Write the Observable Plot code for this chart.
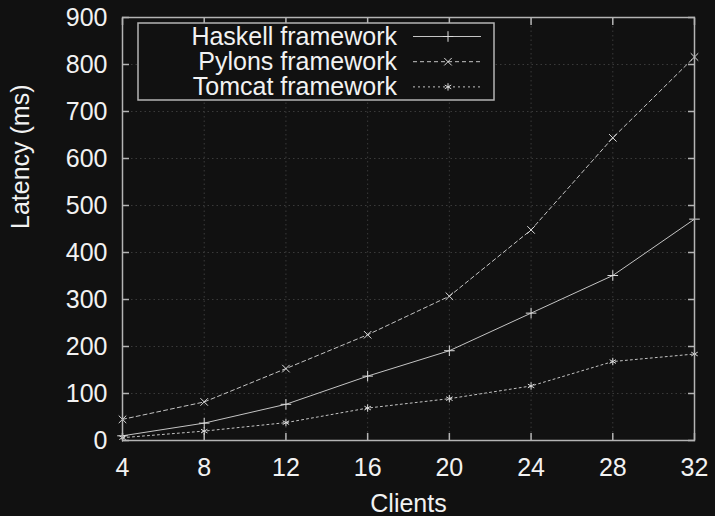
<!DOCTYPE html>
<html>
<head>
<meta charset="utf-8">
<script src="https://cdn.jsdelivr.net/npm/d3@7"></script>
<script src="https://cdn.jsdelivr.net/npm/@observablehq/plot@0.6"></script>
<style>
  html, body { margin: 0; padding: 0; background: #111111; }
  #chart { width: 715px; height: 516px; }
</style>
</head>
<body>
<div id="chart"></div>
<script>
// ---- data ----
const clients = [4, 8, 12, 16, 20, 24, 28, 32];
const haskell = [10, 37, 77, 137, 191, 271, 351, 471];
const pylons  = [45, 82, 153, 225, 307, 448, 644, 816];
const tomcat  = [6, 20, 38, 69, 89, 116, 168, 184];
const seriesNames = ["Haskell framework", "Pylons framework", "Tomcat framework"];
const yTicks = [0, 100, 200, 300, 400, 500, 600, 700, 800, 900];
const xLabel = "Clients";
const yLabel = "Latency (ms)";

// ---- build table ----
const seriesValues = [haskell, pylons, tomcat];
const symbols = ["plus", "times", "asterisk"];
const dashes = [null, "4,3", "2,3"];
const rows = [];
seriesNames.forEach((name, s) => {
  clients.forEach((c, i) => rows.push({series: name, clients: c, latency: seriesValues[s][i]}));
});

const FG = "#f2f2f2";
const AX = "#b4b4b4";
const LINE = "#c4c4c4";

const marks = [
  Plot.gridX({ticks: clients, stroke: "#3a3a3a", strokeOpacity: 1, strokeDasharray: "1.5,3"}),
  Plot.gridY({ticks: yTicks, stroke: "#3a3a3a", strokeOpacity: 1, strokeDasharray: "1.5,3"}),
  Plot.axisX({anchor: "bottom", ticks: clients, tickSize: 0, tickPadding: 18, label: null, fill: FG}),
  Plot.axisY({anchor: "left", ticks: yTicks, tickSize: 0, tickPadding: 15, label: null, fill: FG}),
  Plot.axisX({anchor: "bottom", ticks: clients, tickSize: -7, tickFormat: () => "", label: null, stroke: AX, strokeWidth: 1.5}),
  Plot.axisX({anchor: "top", ticks: clients, tickSize: -7, tickFormat: () => "", label: null, stroke: AX, strokeWidth: 1.5}),
  Plot.axisY({anchor: "left", ticks: yTicks, tickSize: -7, tickFormat: () => "", label: null, stroke: AX, strokeWidth: 1.5}),
  Plot.axisY({anchor: "right", ticks: yTicks, tickSize: -7, tickFormat: () => "", label: null, stroke: AX, strokeWidth: 1.5}),
  Plot.text([xLabel], {frameAnchor: "bottom", dy: 63, lineAnchor: "middle", fill: FG, fontSize: 25}),
  Plot.text([yLabel], {frameAnchor: "left", dx: -102, rotate: -90, lineAnchor: "middle", fill: FG, fontSize: 25})
];
seriesNames.forEach((name, s) => {
  const d = rows.filter(r => r.series === name);
  marks.push(Plot.line(d, {x: "clients", y: "latency", stroke: LINE, strokeWidth: 1, strokeDasharray: dashes[s]}));
  marks.push(Plot.dot(d, {x: "clients", y: "latency", symbol: symbols[s], r: 3.5, stroke: "#dddddd", strokeWidth: 1, fill: "none"}));
});
marks.push(Plot.frame({stroke: AX, strokeWidth: 1.5}));

const plot = Plot.plot({
  width: 715,
  height: 516,
  marginLeft: 122,
  marginRight: 21,
  marginTop: 17,
  marginBottom: 76,
  style: {background: "#111111", color: FG, fontFamily: "'Liberation Sans', Arial, sans-serif", fontSize: "25px"},
  x: {domain: [4, 32], axis: null},
  y: {domain: [0, 900], axis: null},
  marks
});
document.getElementById("chart").appendChild(plot);

// ---- legend (boxed, top-left inside the frame, like gnuplot) ----
const xs = plot.scale("x"), ys = plot.scale("y");
const fx0 = xs.range[0], fy0 = ys.range[1];
const svg = d3.select(plot);
const lg = svg.append("g").attr("class", "legend");
lg.append("rect")
  .attr("x", fx0 + 16).attr("y", fy0 + 6)
  .attr("width", 356).attr("height", 77)
  .attr("fill", "#111111").attr("stroke", AX).attr("stroke-width", 1.5);
const d3sym = [d3.symbolPlus, d3.symbolTimes, d3.symbolAsterisk];
seriesNames.forEach((name, s) => {
  const cy = fy0 + 19.5 + s * 25.2;
  lg.append("text")
    .attr("x", fx0 + 275).attr("y", cy + 8.5)
    .attr("text-anchor", "end")
    .attr("fill", FG)
    .attr("font-family", "'Liberation Sans', Arial, sans-serif")
    .attr("font-size", 25)
    .text(name);
  lg.append("line")
    .attr("x1", fx0 + 291).attr("x2", fx0 + 359)
    .attr("y1", cy).attr("y2", cy)
    .attr("stroke", LINE).attr("stroke-width", 1)
    .attr("stroke-dasharray", dashes[s]);
  lg.append("path")
    .attr("transform", `translate(${fx0 + 326},${cy})`)
    .attr("d", d3.symbol(d3sym[s], Math.PI * 3.5 * 3.5)())
    .attr("fill", "none").attr("stroke", "#dddddd").attr("stroke-width", 1);
});
</script>
</body>
</html>
